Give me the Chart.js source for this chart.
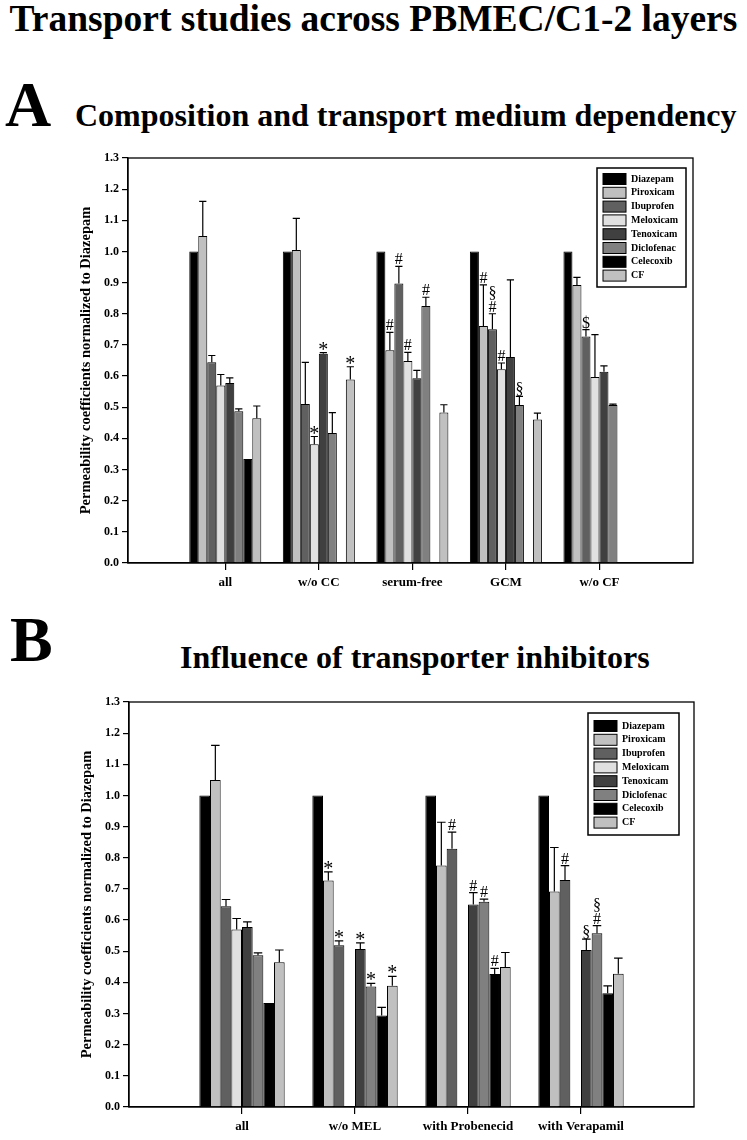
<!DOCTYPE html>
<html>
<head>
<meta charset="utf-8">
<script src="https://cdn.jsdelivr.net/npm/chart.js@4"></script>
<style>
body{margin:0;background:#fff;width:747px;height:1140px;position:relative;overflow:hidden;font-family:"Liberation Serif","Times New Roman",serif;font-weight:bold;color:#000}
.t{position:absolute;white-space:nowrap;line-height:1}
canvas{position:absolute;left:0}
</style>
</head>
<body>
<div class="t" style="top:0px;left:0;width:747px;text-align:center;font-size:37.5px">Transport studies across PBMEC/C1-2 layers</div>
<div class="t" style="top:73px;left:5px;font-size:64px">A</div>
<div class="t" style="top:99px;left:75px;font-size:32px">Composition and transport medium dependency</div>
<div class="t" style="top:608px;left:10px;font-size:64px">B</div>
<div class="t" style="top:641px;left:180px;font-size:32px">Influence of transporter inhibitors</div>
<canvas id="chartA" width="747" height="470" style="top:140px"></canvas>
<canvas id="chartB" width="747" height="460" style="top:680px"></canvas>
<script>
// drugs (datasets), same in both panels
var drugs = ['Diazepam', 'Piroxicam', 'Ibuprofen', 'Meloxicam', 'Tenoxicam', 'Diclofenac', 'Celecoxib', 'CF'];
var fills = ['#000000', '#c0c0c0', '#606060', '#e0e0e0', '#404040', '#808080', '#000000', '#c0c0c0'];

// panel A
var catsA = ['all', 'w/o CC', 'serum-free', 'GCM', 'w/o CF'];
var valsA = [
  [1.000, 1.000, 1.000, 1.000, 1.000],   // Diazepam
  [1.050, 1.005, 0.683, 0.761, 0.892],   // Piroxicam
  [0.644, 0.510, 0.897, 0.750, 0.727],   // Ibuprofen
  [0.570, 0.381, 0.648, 0.622, 0.597],   // Meloxicam
  [0.578, 0.672, 0.593, 0.661, 0.614],   // Tenoxicam
  [0.487, 0.417, 0.825, 0.507, 0.507],   // Diclofenac
  [0.334, null, null, null, null],       // Celecoxib
  [0.465, 0.589, 0.483, 0.461, null]     // CF
];
var errsA = [
  [0, 0, 0, 0, 0],
  [0.111, 0.101, 0.057, 0.132, 0.025],
  [0.022, 0.134, 0.055, 0.050, 0.022],
  [0.035, 0.025, 0.028, 0.020, 0.136],
  [0.016, 0.003, 0.025, 0.248, 0.019],
  [0.008, 0.066, 0.028, 0.028, 0.003],
  [0, 0, 0, 0, 0],
  [0.039, 0.041, 0.025, 0.020, 0]
];
// significance marks, stacked top|bottom
var marksA = [
  ['', '', '', '', ''],
  ['', '', '#', '#', ''],
  ['', '', '#', '§|#', '$'],
  ['', '*', '#', '#', ''],
  ['', '*', '', '', ''],
  ['', '', '#', '§', ''],
  ['', '', '', '', ''],
  ['', '*', '', '', '']
];

// panel B
var catsB = ['all', 'w/o MEL', 'with Probenecid', 'with Verapamil'];
var valsB = [
  [1.000, 1.000, 1.000, 1.000],
  [1.050, 0.727, 0.775, 0.692],
  [0.644, 0.519, 0.829, 0.729],
  [0.570, null, null, null],
  [0.578, 0.507, 0.650, 0.504],
  [0.487, 0.387, 0.659, 0.558],
  [0.334, 0.294, 0.427, 0.365],
  [0.465, 0.389, 0.449, 0.428]
];
var errsB = [
  [0, 0, 0, 0],
  [0.111, 0.028, 0.139, 0.141],
  [0.022, 0.014, 0.053, 0.046],
  [0.035, 0, 0, 0],
  [0.016, 0.020, 0.038, 0.035],
  [0.008, 0.010, 0.008, 0.024],
  [0, 0.026, 0.018, 0.024],
  [0.039, 0.030, 0.047, 0.050]
];
var marksB = [
  ['', '', '', ''],
  ['', '*', '', ''],
  ['', '*', '#', '#'],
  ['', '', '', ''],
  ['', '*', '#', '§'],
  ['', '*', '#', '§|#'],
  ['', '', '#', ''],
  ['', '*', '', '']
];

var yTicks = [0, 0.1, 0.2, 0.3, 0.4, 0.5, 0.6, 0.7, 0.8, 0.9, 1.0, 1.1, 1.2, 1.3];

var SERIF = '"Liberation Serif", "Times New Roman", serif';
Chart.defaults.font.family = SERIF;
Chart.defaults.font.weight = 'bold';
Chart.defaults.color = '#000';

var errorBars = {
  id: 'errorBars',
  afterDatasetsDraw: function(chart) {
    var ctx = chart.ctx, ys = chart.scales.y;
    ctx.save();
    ctx.strokeStyle = '#000';
    ctx.lineWidth = 1.2;
    chart.data.datasets.forEach(function(ds, i) {
      var meta = chart.getDatasetMeta(i);
      meta.data.forEach(function(bar, j) {
        var v = ds.data[j].y;
        if (v == null) return;
        var e = ds.errs[j] || 0;
        var top = bar.y;
        if (e > 0) {
          top = ys.getPixelForValue(v + e);
          var hw = bar.width * 0.4;
          ctx.beginPath();
          ctx.moveTo(bar.x, bar.y); ctx.lineTo(bar.x, top);
          ctx.moveTo(bar.x - hw, top); ctx.lineTo(bar.x + hw, top);
          ctx.stroke();
        }
        var m = ds.marks[j];
        if (m) {
          var parts = m.split('|');
          ctx.fillStyle = '#000';
          ctx.textAlign = 'center';
          ctx.textBaseline = 'alphabetic';
          var yy = top - 2;
          for (var k = parts.length - 1; k >= 0; k--) {
            var big = parts[k] === '*';
            ctx.font = 'normal ' + (big ? 20 : 16) + 'px ' + SERIF;
            ctx.fillText(parts[k], bar.x, big ? yy + 5 : yy);
            yy -= 14;
          }
        }
      });
    });
    ctx.restore();
  }
};

var frameLegend = {
  id: 'frameLegend',
  afterDraw: function(chart, args, opts) {
    var ctx = chart.ctx, a = chart.chartArea;
    ctx.save();
    ctx.strokeStyle = '#000';
    ctx.lineWidth = 1.3;
    ctx.strokeRect(a.left, a.top, a.right - a.left, a.bottom - a.top);
    var b = opts.box;
    ctx.lineWidth = 1.5;
    ctx.strokeRect(b.x, b.y, b.w, b.h);
    ctx.font = 'bold 10px ' + SERIF;
    ctx.textAlign = 'left';
    ctx.textBaseline = 'middle';
    ctx.lineWidth = 1;
    chart.data.datasets.forEach(function(ds, i) {
      var cy = b.first + i * b.step;
      ctx.fillStyle = ds.backgroundColor;
      ctx.fillRect(b.x + 6, cy - 5.5, 23, 11);
      ctx.strokeRect(b.x + 6, cy - 5.5, 23, 11);
      ctx.fillStyle = '#000';
      ctx.fillText(ds.label, b.x + 34, cy);
    });
    ctx.restore();
  }
};

function makeChart(id, cats, vals, errs, marks, cfg) {
  var datasets = drugs.map(function(d, i) {
    return {
      label: d,
      data: cats.map(function(c, j) { return { x: j + 1, y: vals[i][j] }; }),
      errs: errs[i],
      marks: marks[i],
      backgroundColor: fills[i],
      borderColor: '#000',
      borderWidth: 1,
      categoryPercentage: cfg.catPct,
      barPercentage: 1
    };
  });
  return new Chart(document.getElementById(id), {
    type: 'bar',
    data: { datasets: datasets },
    options: {
      responsive: false,
      animation: false,
      devicePixelRatio: 1,
      layout: { padding: cfg.pad },
      plugins: {
        legend: { display: false },
        tooltip: { enabled: false },
        frameLegend: { box: cfg.box }
      },
      scales: {
        x: {
          type: 'linear',
          offset: false,
          min: cfg.xmin,
          max: cfg.xmax,
          afterBuildTicks: function(s) {
            s.ticks = cats.map(function(c, j) { return { value: j + 1 }; });
          },
          afterFit: function(s) { s.height = 30; },
          ticks: {
            autoSkip: false,
            maxRotation: 0,
            padding: 5,
            font: { size: 13, weight: 'bold' },
            callback: function(v, idx) { return cats[idx]; }
          },
          grid: { offset: false, drawOnChartArea: false, color: '#000', tickLength: 7, lineWidth: 1.2 },
          border: { color: '#000', width: 1.3 }
        },
        y: {
          min: 0,
          max: 1.3,
          afterBuildTicks: function(s) {
            s.ticks = yTicks.map(function(v) { return { value: v }; });
          },
          afterFit: function(s) { s.width = 50; },
          ticks: {
            padding: 3,
            font: { size: 12, weight: 'bold' },
            callback: function(v) { return v.toFixed(1); }
          },
          grid: { drawOnChartArea: false, color: '#000', tickLength: 6, lineWidth: 1.2 },
          border: { color: '#000', width: 1.3 },
          title: {
            display: true,
            text: 'Permeability coefficients normalized to Diazepam',
            font: { size: 14.5, weight: 'bold' },
            padding: { top: 0, bottom: 0 }
          }
        }
      }
    },
    plugins: [errorBars, frameLegend]
  });
}

makeChart('chartA', catsA, valsA, errsA, marksA, {
  catPct: 0.77,
  xmin: -0.04,
  xmax: 6,
  pad: { left: 78, top: 18, right: 54, bottom: 17 },
  box: { x: 597, y: 28, w: 89, h: 119, first: 39, step: 13.8 }
});

makeChart('chartB', catsB, valsB, errsB, marksB, {
  catPct: 0.755,
  xmin: 0,
  xmax: 5,
  pad: { left: 79, top: 22, right: 53, bottom: 3 },
  box: { x: 588, y: 33, w: 91, h: 122, first: 46, step: 13.8 }
});
</script>
</body>
</html>
